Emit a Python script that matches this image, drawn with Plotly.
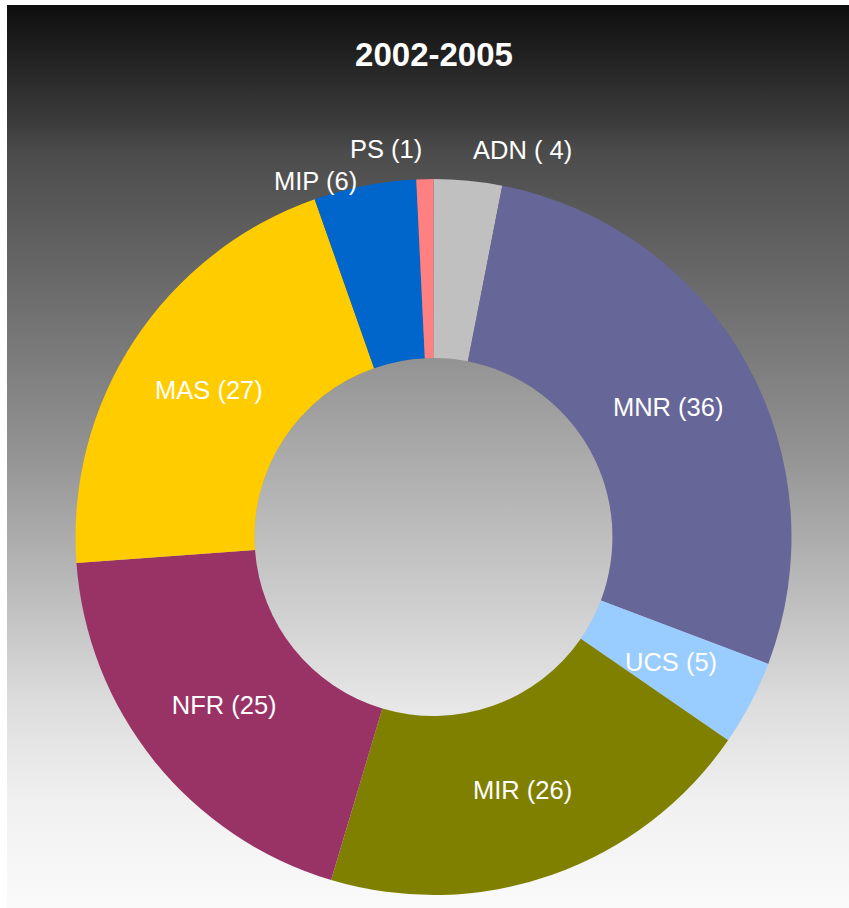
import base64
import numpy as np
import plotly.graph_objects as go

# ---- data ----
parties = ["ADN", "MNR", "UCS", "MIR", "NFR", "MAS", "MIP", "PS"]
seats = [4, 36, 5, 26, 25, 27, 6, 1]
colors = ["#C0C0C0", "#666699", "#99CCFF", "#808000", "#993366", "#FFCC00", "#0066CC", "#FF8080"]
title_text = "2002-2005"
label_pad = {"ADN": " "}

# label style per slice: native inside text, annotation inside, or annotation outside
label_mode = ["outside", "inside", "ann_inside", "inside", "inside", "inside", "outside", "outside"]

W, H = 849, 908
CX, CY, R = 426.5, 532.0, 358.0   # pie centre (px from figure top-left) and radius
HOLE = 0.5
FONT = "Liberation Sans, Arial, sans-serif"
FS = 25.5

texts = [f"{p} ({label_pad.get(p, '')}{v})" for p, v in zip(parties, seats)]

dom_x = [(CX - R) / W, (CX + R) / W]
dom_y = [1 - (CY + R) / H, 1 - (CY - R) / H]

fig = go.Figure(go.Pie(
    labels=parties,
    values=seats,
    text=texts,
    textinfo="text",
    textposition=["inside" if m == "inside" else "none" for m in label_mode],
    insidetextorientation="horizontal",
    textfont=dict(family=FONT, size=FS, color="white"),
    marker=dict(colors=colors, line=dict(width=0)),
    hole=HOLE,
    sort=False,
    direction="clockwise",
    rotation=0,
    domain=dict(x=dom_x, y=dom_y),
    showlegend=False,
    hoverinfo="label+value",
))

# approximate Arial advance widths (em) to keep outside labels from colliding
CW = {" ": .278, "(": .333, ")": .333, "A": .667, "D": .722, "N": .722, "M": .833,
      "I": .278, "P": .667, "S": .667, "U": .722, "C": .722, "R": .722, "F": .611}
def text_w(t):
    return sum(CW.get(ch, .556) for ch in t) * FS

total = float(sum(seats))
cum = np.cumsum(seats)
items = []
for p, v, c, t, m in zip(parties, seats, cum, texts, label_mode):
    ang = (c - v / 2.0) / total * 2 * np.pi
    items.append((ang, t, m))

annotations = []
placed = []  # boxes of outside labels (x0, x1, y0, y1) in px
LH = FS * 1.2
# outside labels: handle those nearest the top first
outside = sorted([it for it in items if it[2] == "outside"],
                 key=lambda it: min(it[0], 2 * np.pi - it[0]))
for ang, t, m in outside:
    s, co = np.sin(ang), np.cos(ang)
    r = R * 1.085
    px, py = CX + r * s, CY - r * co
    w = text_w(t)
    if s > 0:
        x0, x1, xa = px, px + w, "left"
    else:
        x0, x1, xa = px - w, px, "right"
    y0, y1 = py - LH / 2, py + LH / 2
    for bx0, bx1, by0, by1 in placed:
        if x0 < bx1 and x1 > bx0 and y0 < by1 + 2 and y1 > by0 - 2:
            shift = by1 + 2 - y0
            y0, y1, py = y0 + shift, y1 + shift, py + shift
    placed.append((x0, x1, y0, y1))
    annotations.append(dict(
        x=px / W, y=1 - py / H, xref="paper", yref="paper",
        text=t, showarrow=False, xanchor=xa, yanchor="middle",
        font=dict(family=FONT, size=FS, color="white"),
    ))
for ang, t, m in items:
    if m != "ann_inside":
        continue
    r = R * (1 - (1 - HOLE) / 2)
    px, py = CX + r * np.sin(ang), CY - r * np.cos(ang)
    annotations.append(dict(
        x=px / W, y=1 - py / H, xref="paper", yref="paper",
        text=t, showarrow=False, xanchor="center", yanchor="middle",
        font=dict(family=FONT, size=FS, color="white"),
    ))

# background gradient + gradient-filled hole as one SVG image
stops = [(0.0, 14), (0.126, 58), (0.16, 75), (0.325, 110), (0.49, 146),
         (0.655, 190), (0.765, 220), (0.875, 240), (0.99, 250), (1.0, 250)]
stop_svg = "".join(
    f"<stop offset='{o}' stop-color='rgb({g},{g},{g})'/>" for o, g in stops)
svg = (
    f"<svg xmlns='http://www.w3.org/2000/svg' width='{W}' height='{H}' viewBox='0 0 {W} {H}' preserveAspectRatio='none'>"
    "<defs>"
    f"<linearGradient id='bg' x1='0' y1='0' x2='0' y2='1'>{stop_svg}</linearGradient>"
    "<linearGradient id='hl' x1='0' y1='0' x2='0' y2='1'>"
    "<stop offset='0' stop-color='#939393'/><stop offset='1' stop-color='#e9e9e9'/></linearGradient>"
    "</defs>"
    f"<rect width='{W}' height='{H}' fill='url(#bg)'/>"
    f"<circle cx='{CX}' cy='{CY}' r='{R * HOLE}' fill='url(#hl)'/>"
    "</svg>"
)
src = "data:image/svg+xml;base64," + base64.b64encode(svg.encode()).decode()

fig.update_layout(
    width=W, height=H, autosize=False,
    margin=dict(l=0, r=0, t=0, b=0),
    paper_bgcolor="white",
    title=dict(text=f"<b>{title_text}</b>", x=427 / W, y=1 - 49.5 / H,
               xanchor="center", yanchor="middle",
               font=dict(family=FONT, size=33, color="white")),
    annotations=annotations,
    images=[dict(source=src, xref="paper", yref="paper", x=0, y=1,
                 sizex=1, sizey=1, xanchor="left", yanchor="top",
                 sizing="stretch", layer="below")],
)

page_css = ("document.documentElement.style.overflow='hidden';"
            "document.body.style.overflow='hidden';"
            "document.body.style.margin='5px 0 0 7px';")
fig.write_html("out.html", post_script=page_css)
